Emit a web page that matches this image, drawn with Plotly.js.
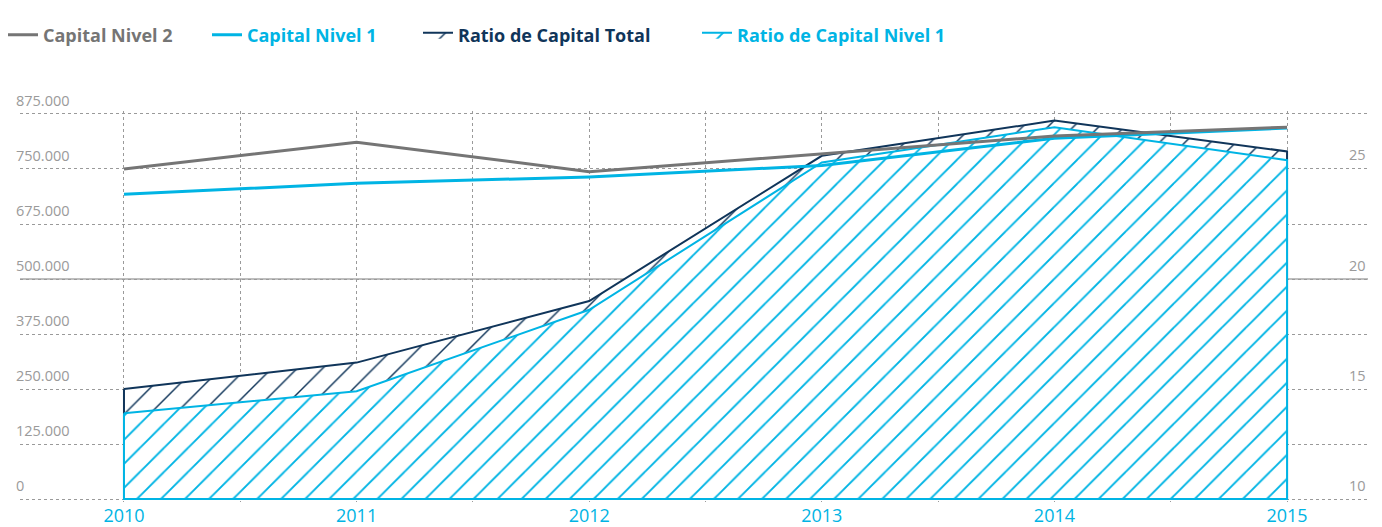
<!DOCTYPE html>
<html><head><meta charset="utf-8">
<script src="https://cdn.plot.ly/plotly-3.0.1.min.js"></script>
<style>html,body{margin:0;padding:0;background:#fff}#chart{width:1382px;height:527px}</style>
</head><body><div id="chart"></div>
<script>
const years = [2010, 2011, 2012, 2013, 2014, 2015];
const capitalNivel2 = [750000, 811000, 744000, 784000, 825000, 845000];
const capitalNivel1 = [692500, 717500, 732000, 758000, 820000, 843000];
const ratioCapitalTotal = [15.0, 16.2, 19.0, 25.6, 27.2, 25.8];
const ratioCapitalNivel1 = [13.9, 14.9, 18.6, 25.3, 26.9, 25.4];

const capitalTickVals = [0, 125000, 250000, 375000, 500000, 625000, 750000, 875000];
const capitalTickText = ['0', '125.000', '250.000', '375.000', '500.000', '675.000', '750.000', '875.000'];
const ratioTickVals = [10, 12.5, 15, 17.5, 20, 22.5, 25, 27.5];
const ratioTickText = ['10', '', '15', '', '20', '', '25', ''];
const yearTickVals = [2010, 2010.5, 2011, 2011.5, 2012, 2012.5, 2013, 2013.5, 2014, 2014.5, 2015];
const yearTickText = ['2010', '', '2011', '', '2012', '', '2013', '', '2014', '', '2015'];

const NAVY = '#10355a', CYAN = '#00b4e4', GRAY = '#757575', LABEL = '#9a9a9a';
const FONT = 'Open Sans, Noto Sans, sans-serif';

function closed(xs, ys, base) {
  return {x: xs.concat([xs[xs.length - 1], xs[0], xs[0]]), y: ys.concat([base, base, ys[0]])};
}
const base = ratioTickVals[0];
const pTotal = closed(years, ratioCapitalTotal, base);
const pN1 = closed(years, ratioCapitalNivel1, base);

const traces = [
  {x: pTotal.x, y: pTotal.y, yaxis: 'y', type: 'scatter', mode: 'lines', fill: 'toself', legend: 'legend3',
   name: '<b><span style="color:' + NAVY + '">Ratio de Capital Total</span></b>',
   line: {color: NAVY, width: 2}, fillcolor: '#ffffff',
   fillpattern: {shape: '/', fgcolor: NAVY, bgcolor: '#ffffff', size: 18, solidity: 0.08, fillmode: 'replace'}},
  {x: pN1.x, y: pN1.y, yaxis: 'y', type: 'scatter', mode: 'lines', fill: 'toself', legend: 'legend4',
   name: '<b><span style="color:' + CYAN + '">Ratio de Capital Nivel 1</span></b>',
   line: {color: CYAN, width: 2}, fillcolor: '#ffffff',
   fillpattern: {shape: '/', fgcolor: CYAN, bgcolor: '#ffffff', size: 17, solidity: 0.11, fillmode: 'replace'}},
  {x: years, y: capitalNivel1, yaxis: 'y2', type: 'scatter', mode: 'lines', legend: 'legend2',
   name: '<b><span style="color:' + CYAN + '">Capital Nivel 1</span></b>',
   line: {color: CYAN, width: 3}},
  {x: years, y: capitalNivel2, yaxis: 'y2', type: 'scatter', mode: 'lines', legend: 'legend',
   name: '<b><span style="color:' + GRAY + '">Capital Nivel 2</span></b>',
   line: {color: GRAY, width: 3}}
];

const annotations = [];
capitalTickVals.forEach((v, i) => {
  annotations.push({xref: 'paper', x: 0, xanchor: 'left', xshift: -6, yref: 'y2', y: v, yanchor: 'middle', yshift: 14,
    text: capitalTickText[i], showarrow: false, font: {family: FONT, size: 14.5, color: LABEL}});
});
ratioTickVals.forEach((v, i) => {
  if (!ratioTickText[i]) return;
  annotations.push({xref: 'paper', x: 1, xanchor: 'right', xshift: 0, yref: 'y', y: v, yanchor: 'middle', yshift: 14,
    text: ratioTickText[i], showarrow: false, font: {family: FONT, size: 14.5, color: LABEL}});
});

function legendAt(px) {
  return {orientation: 'h', xref: 'container', x: px / 1382, xanchor: 'left', y: 1.194, yanchor: 'middle',
          font: {family: FONT, size: 18}, itemwidth: 30, bgcolor: 'rgba(0,0,0,0)'};
}

const layout = {
  width: 1382, height: 527,
  margin: {l: 20, r: 14, t: 111, b: 25, pad: 0, autoexpand: false},
  paper_bgcolor: '#ffffff', plot_bgcolor: '#ffffff',
  font: {family: FONT, color: LABEL, size: 14},
  showlegend: true,
  legend: legendAt(3),
  legend2: legendAt(207),
  legend3: legendAt(418),
  legend4: legendAt(697),
  xaxis: {range: [2009.553, 2015.348], tickvals: yearTickVals, ticktext: yearTickText,
          showgrid: true, gridcolor: '#9a9a9a', griddash: 'dot', gridwidth: 1,
          zeroline: false, showline: false, ticks: '', ticklabelstandoff: 1,
          tickfont: {family: FONT, size: 18, color: CYAN}},
  yaxis: {side: 'right', range: [9.864, 27.636], tickvals: ratioTickVals, ticktext: ratioTickText,
          showgrid: true, gridcolor: '#9a9a9a', griddash: 'dot', gridwidth: 1,
          zeroline: false, showline: false, ticks: '', showticklabels: false},
  yaxis2: {overlaying: 'y', side: 'left', range: [-6818, 881818],
           tickvals: capitalTickVals, ticktext: capitalTickText,
           showgrid: false, zeroline: false, showline: false, ticks: '', showticklabels: false},
  shapes: [{type: 'line', layer: 'below', xref: 'paper', x0: 0, x1: 1, yref: 'y', y0: 20, y1: 20,
            line: {color: '#a8a8a8', width: 1.5}}],
  annotations: annotations
};

Plotly.newPlot('chart', traces, layout, {displayModeBar: false, staticPlot: true});
</script></body></html>
